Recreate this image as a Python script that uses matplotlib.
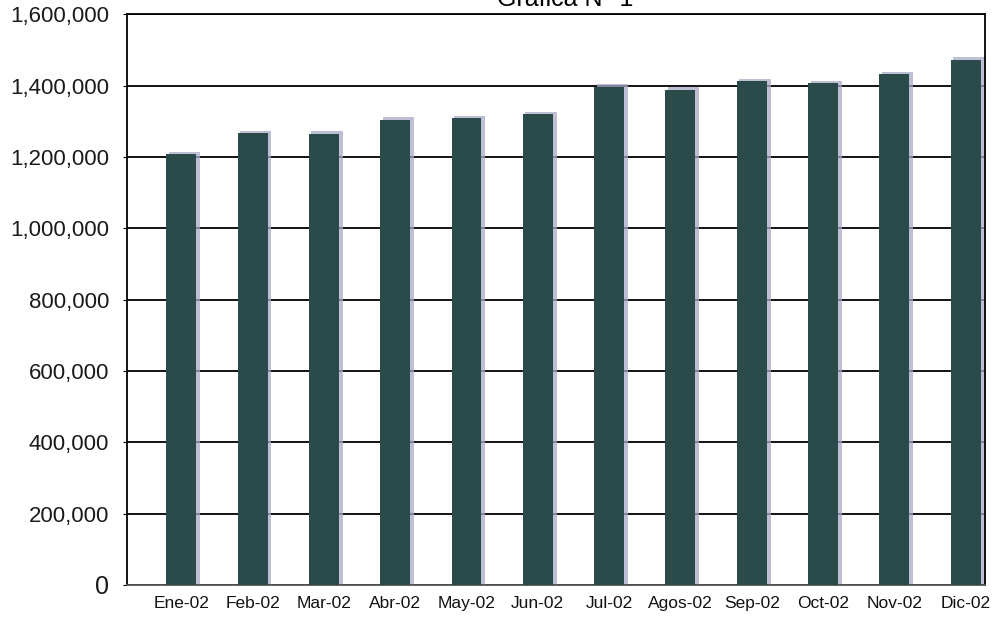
import numpy as np
import matplotlib.pyplot as plt
from matplotlib.ticker import FuncFormatter

months = ["Ene-02", "Feb-02", "Mar-02", "Abr-02", "May-02", "Jun-02",
          "Jul-02", "Agos-02", "Sep-02", "Oct-02", "Nov-02", "Dic-02"]
values = [1208000, 1267000, 1265000, 1304000, 1308000, 1319000,
          1397000, 1388000, 1412000, 1407000, 1432000, 1472000]
yticks = [0, 200000, 400000, 600000, 800000, 1000000, 1200000, 1400000, 1600000]

plt.rcParams['font.family'] = ['Liberation Sans', 'DejaVu Sans']

fig = plt.figure(figsize=(10, 6.19), dpi=100)
ax = fig.add_axes([0.127, 0.055, 0.858, 0.922])

x = np.arange(len(months))
# soft shadow behind the bars, like the scanned original
ax.bar(x + 0.045, np.array(values) + 7000, width=0.44, color='#a8a8c8', alpha=0.75, zorder=2)
ax.bar(x, values, width=0.42, color='#2b4a4a', zorder=3)

ax.set_ylim(0, 1600000)
ax.set_xlim(-0.76, 11.27)
ax.set_yticks(yticks)
ax.yaxis.set_major_formatter(FuncFormatter(lambda v, p: f"{int(v):,}"))
ax.set_xticks(x)
ax.set_xticklabels(months, fontsize=12.5, color='#111111')
for lbl in ax.get_yticklabels():
    lbl.set_fontsize(16)
    lbl.set_color('#1a1a1a')
ax.get_yticklabels()[0].set_fontsize(18)

ax.yaxis.grid(True, color='black', linewidth=1.3)
ax.set_axisbelow(True)
for s in ax.spines.values():
    s.set_color('black')
    s.set_linewidth(1.3)
ax.spines['bottom'].set_color('#555555')
ax.tick_params(axis='y', length=3, pad=10)
ax.tick_params(axis='x', length=0, pad=8)

# title is partly cut off at the top edge, as in the scanned original
fig.text(0.565, 0.99, "Gráfica N° 1", fontsize=18, ha='center', va='baseline')

fig.savefig("out.png", dpi=100)
